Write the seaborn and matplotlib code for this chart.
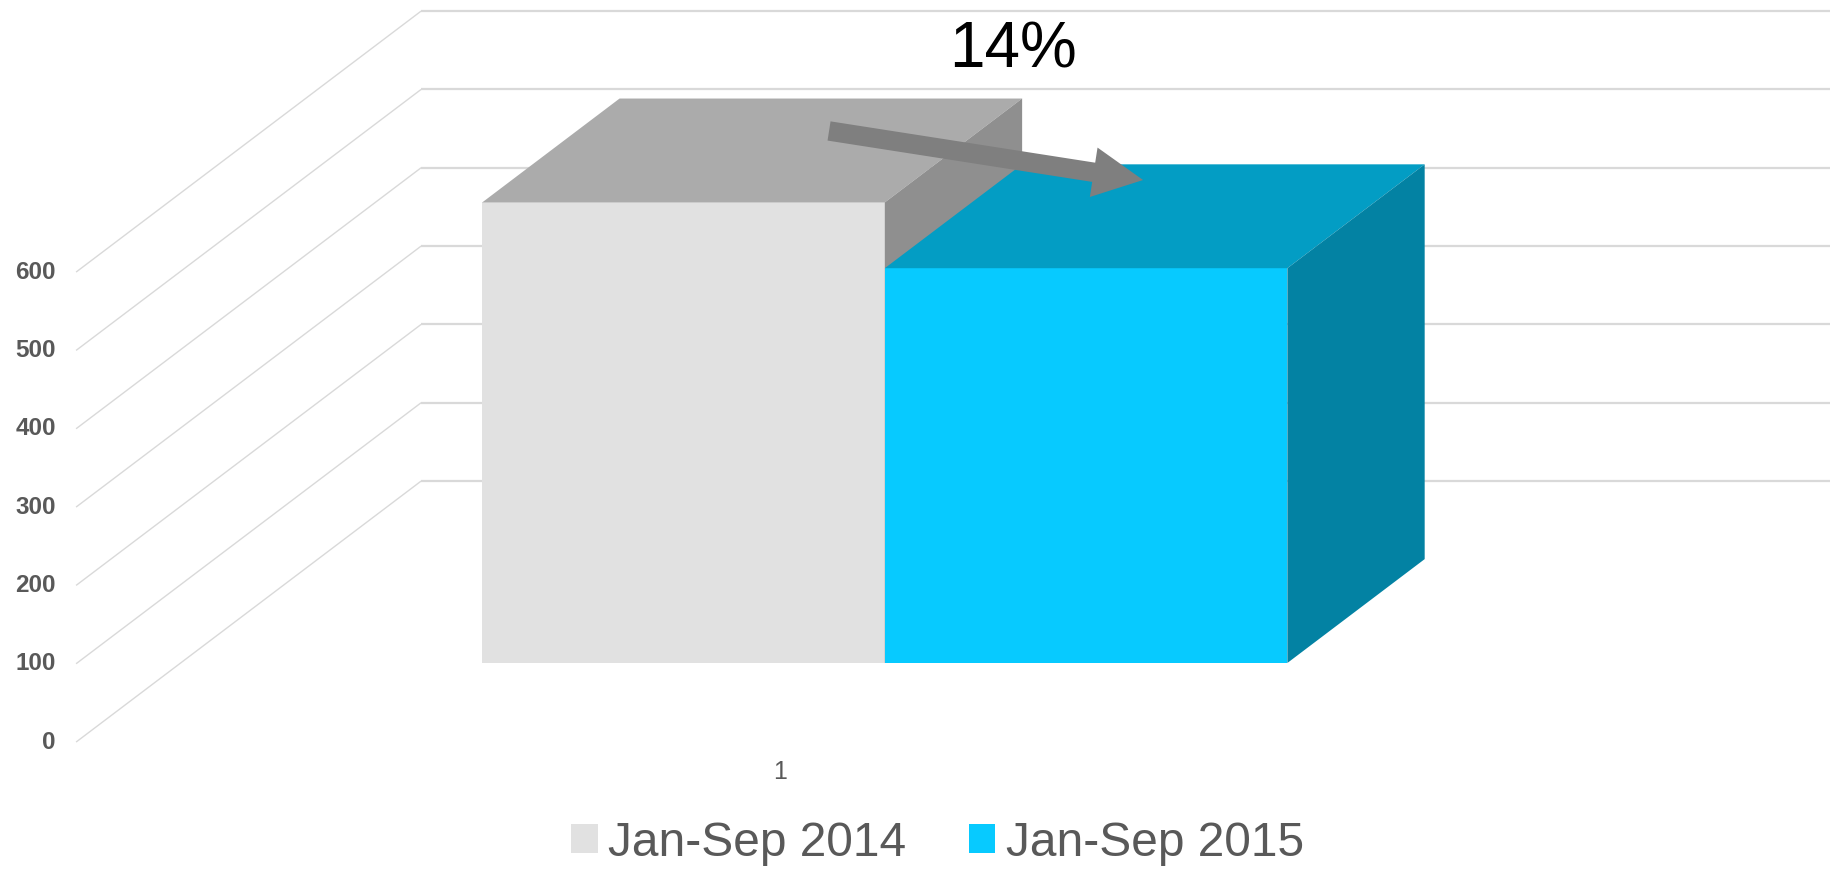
import numpy as np
import pandas as pd
import matplotlib
matplotlib.use("Agg")
import matplotlib.pyplot as plt
from matplotlib.patches import Polygon, Patch
import seaborn as sns

# ---- data ----
periods = ["Jan-Sep 2014", "Jan-Sep 2015"]
values = [588, 504]
y_ticks = [0, 100, 200, 300, 400, 500, 600]
category_label = "1"
change_label = "14%"

# ---- colours ----
front_colors = ["#E1E1E1", "#07CAFF"]
top_colors = ["#ABABAB", "#039DC4"]
side_colors = ["#8F8F8F", "#0382A3"]
grid_color = "#D9D9D9"
text_color = "#595959"
arrow_color = "#7F7F7F"

sns.set_theme(style="white")
plt.rcParams["font.family"] = ["Liberation Sans", "DejaVu Sans"]

W, H = 1830, 869
fig = plt.figure(figsize=(W / 100, H / 100), dpi=100)
ax = fig.add_axes([0, 0, 1, 1])

df = pd.DataFrame({"period": periods, "value": values})
sns.barplot(data=df, x="period", y="value", hue="period",
            palette=dict(zip(periods, front_colors)), width=1.0,
            saturation=1, legend=False, linewidth=0, edgecolor="none", ax=ax)

# projection geometry (oblique 3D look)
depth_vec = np.array([0.8571, 333.2])   # full floor depth in data units
floor_front = -0.303                     # floor front edge relative to bar front plane
back_wall = 0.697                        # back wall relative to bar front plane
bar_depth = 0.398
floor_left = -1.509
x_right = 2.848

ax.set_xlim(-1.698, x_right)
ax.set_ylim(-263.0, 846.4)
ax.axis("off")

# gridlines: floor-front diagonal to back wall, then horizontal along back wall
ff = floor_front * depth_vec
bw = back_wall * depth_vec
for v in y_ticks:
    x_a, y_a = floor_left, v + ff[1]
    x_b, y_b = floor_left + depth_vec[0], v + ff[1] + depth_vec[1]
    ax.plot([x_a, x_b], [y_a, y_b], color=grid_color, lw=1.0, zorder=0.5,
            solid_capstyle="butt")
    ax.plot([x_b, x_right + 0.1], [y_b, y_b], color=grid_color, lw=1.6,
            zorder=0.5, solid_capstyle="butt")
    ax.text(floor_left - 0.05, y_a, f"{v}", ha="right", va="center",
            fontsize=17.5, fontweight="bold", color=text_color)

# 3D faces of bars
d = bar_depth * depth_vec
bars = list(ax.patches)
for i, p in enumerate(bars):
    x0 = p.get_x()
    x1 = x0 + p.get_width()
    h = p.get_height()
    p.set_zorder(2 + 3 * i)
    p.set_linewidth(0)
    top = Polygon([(x0, h), (x1, h), (x1 + d[0], h + d[1]), (x0 + d[0], h + d[1])],
                  closed=True, facecolor=top_colors[i], edgecolor="none",
                  zorder=3 + 3 * i)
    side = Polygon([(x1, 0), (x1 + d[0], d[1]), (x1 + d[0], h + d[1]), (x1, h)],
                   closed=True, facecolor=side_colors[i], edgecolor="none",
                   zorder=4 + 3 * i)
    ax.add_patch(top)
    ax.add_patch(side)

# category label on floor front
ax.text(0.5 + ff[0], ff[1] - 38.5, category_label, ha="center", va="center",
        fontsize=18, color=text_color)

# change arrow
tail = (0 + 0.3615, values[0] + 91.2)
tip = (1 + 0.1416, values[1] + 112.6)
ax.annotate("", xy=tip, xytext=tail,
            arrowprops=dict(arrowstyle="simple,head_length=3.6,head_width=3.6,tail_width=1.4",
                            mutation_scale=10, color=arrow_color, lw=0,
                            shrinkA=0, shrinkB=0),
            zorder=20)

fig.text(1013 / W, 1 - 51 / H, change_label, ha="center", va="center",
         fontsize=46, color="black")

handles = [Patch(facecolor=c, edgecolor="none") for c in front_colors]
fig.legend(handles, periods, loc="center", bbox_to_anchor=(937.5 / W, 1 - 843 / H),
           ncol=2, frameon=False, fontsize=34.5, labelcolor=text_color,
           handlelength=0.55, handleheight=0.55, handletextpad=0.22,
           columnspacing=1.3, borderpad=0, borderaxespad=0)

fig.savefig("out.png", dpi=100)
